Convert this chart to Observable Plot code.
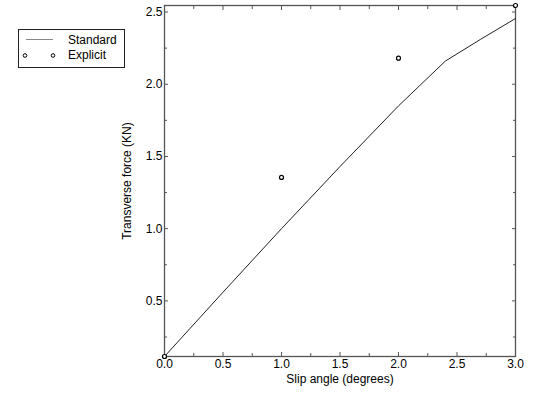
<!DOCTYPE html>
<html>
<head>
<meta charset="utf-8">
<script src="https://cdn.jsdelivr.net/npm/d3@7"></script>
<script src="https://cdn.jsdelivr.net/npm/@observablehq/plot@0.6"></script>
<style>
  body { margin: 0; background: #fff; }
  #wrap { position: relative; width: 533px; height: 393px; font-family: "Liberation Sans", Arial, sans-serif; }
  #legend { position: absolute; left: 18px; top: 29px; }
</style>
</head>
<body>
<div id="wrap"></div>
<script>
// Series names
const seriesNames = ["Standard", "Explicit"];

// Standard (line)
const standardX = [0, 0.5, 1.0, 1.5, 2.0, 2.4, 2.7, 3.0];
const standardY = [0.115, 0.56, 1.0, 1.43, 1.85, 2.16, 2.31, 2.455];

// Explicit (open circles)
const explicitX = [0, 1, 2, 3];
const explicitY = [0.115, 1.355, 2.18, 2.545];

// Ticks
const xMajor = [0, 0.5, 1.0, 1.5, 2.0, 2.5, 3.0];
const xMinor = [0.25, 0.75, 1.25, 1.75, 2.25, 2.75];
const yMajor = [0.5, 1.0, 1.5, 2.0, 2.5];
const yMinor = [0.25, 0.75, 1.25, 1.75, 2.25];

const standard = standardX.map((x, i) => ({x, y: standardY[i]}));
const explicit = explicitX.map((x, i) => ({x, y: explicitY[i]}));

const axisColor = "#555";
const fmt = d3.format(".1f");

const chart = Plot.plot({
  width: 533,
  height: 393,
  marginLeft: 164,
  marginRight: 18,
  marginTop: 5,
  marginBottom: 37,
  style: {fontFamily: "'Liberation Sans', Arial, sans-serif", fontSize: "12px", color: "#000", background: "#fff"},
  x: {domain: [0, 3]},
  y: {domain: [0.115, 2.545]},
  marks: [
    // tick labels and titles
    Plot.axisX(xMajor, {anchor: "bottom", tickSize: 0, tickPadding: 3, tickFormat: fmt, fill: "#000",
      label: "Slip angle (degrees)", labelAnchor: "center", labelArrow: "none", labelOffset: 26}),
    Plot.axisY(yMajor, {anchor: "left", tickSize: 0, tickPadding: 2, tickFormat: fmt, fill: "#000",
      label: "Transverse force (KN)", labelAnchor: "center", labelArrow: "none", labelOffset: 42}),
    // inward ticks, all four sides
    Plot.axisX(xMajor, {anchor: "bottom", tickSize: -4, text: null, label: null, stroke: axisColor}),
    Plot.axisX(xMinor, {anchor: "bottom", tickSize: -3, text: null, label: null, stroke: axisColor}),
    Plot.axisX(xMajor, {anchor: "top", tickSize: -4, text: null, label: null, stroke: axisColor}),
    Plot.axisX(xMinor, {anchor: "top", tickSize: -3, text: null, label: null, stroke: axisColor}),
    Plot.axisY(yMajor, {anchor: "left", tickSize: -4, text: null, label: null, stroke: axisColor}),
    Plot.axisY(yMinor, {anchor: "left", tickSize: -3, text: null, label: null, stroke: axisColor}),
    Plot.axisY(yMajor, {anchor: "right", tickSize: -4, text: null, label: null, stroke: axisColor}),
    Plot.axisY(yMinor, {anchor: "right", tickSize: -3, text: null, label: null, stroke: axisColor}),
    Plot.frame({stroke: axisColor, strokeWidth: 1.3}),
    Plot.line(standard, {x: "x", y: "y", stroke: "#222", strokeWidth: 1, clip: false}),
    Plot.dot(explicit, {x: "x", y: "y", r: 2, stroke: "#000", strokeWidth: 1.2, fill: "#fff"})
  ]
});

const wrap = document.getElementById("wrap");
wrap.appendChild(chart);

// Legend
const ns = "http://www.w3.org/2000/svg";
const leg = document.createElementNS(ns, "svg");
leg.setAttribute("id", "legend");
leg.setAttribute("width", 108);
leg.setAttribute("height", 40);
leg.innerHTML = `
  <rect x="0.5" y="0.5" width="106" height="38" fill="#fff" stroke="#222" stroke-width="1"/>
  <line x1="8" x2="35" y1="10.5" y2="10.5" stroke="#888" stroke-width="1"/>
  <circle cx="7" cy="26.5" r="1.8" fill="#fff" stroke="#000" stroke-width="1"/>
  <circle cx="35" cy="26.5" r="1.8" fill="#fff" stroke="#000" stroke-width="1"/>
  <text x="50" y="15" font-size="12" font-family="Liberation Sans, Arial, sans-serif" fill="#000">${seriesNames[0]}</text>
  <text x="50" y="30" font-size="12" font-family="Liberation Sans, Arial, sans-serif" fill="#000">${seriesNames[1]}</text>
`;
wrap.appendChild(leg);
</script>
</body>
</html>
